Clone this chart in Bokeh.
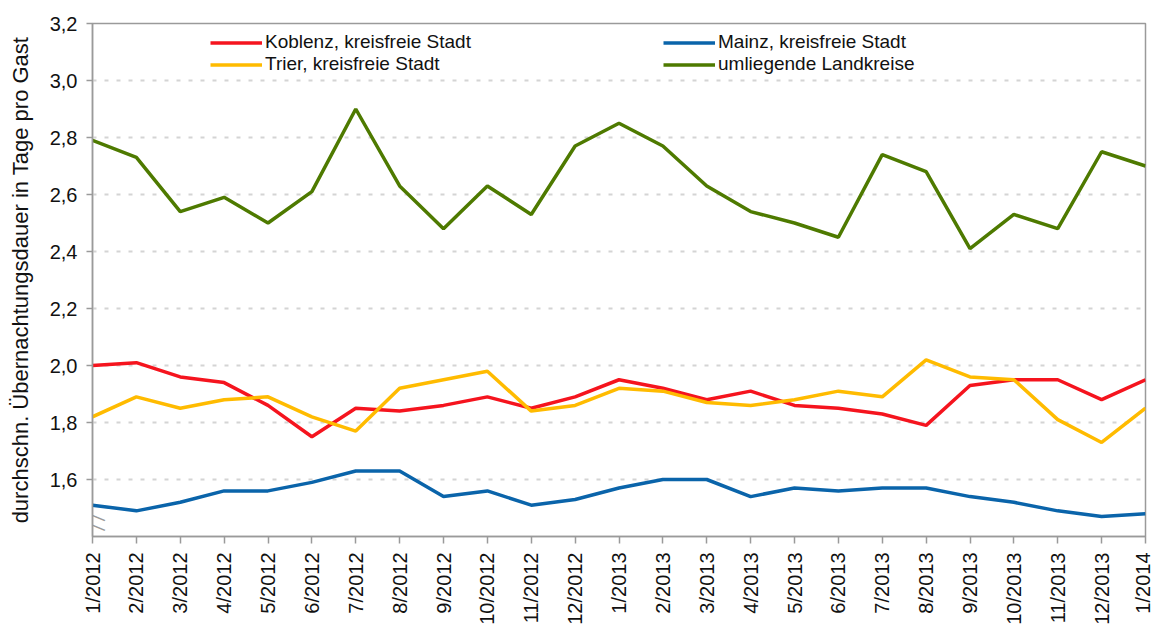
from math import pi, atan
from bokeh.plotting import figure
from bokeh.models import (FixedTicker, Legend, LegendItem, Range1d, Label)
from bokeh.embed import file_html
from bokeh.resources import INLINE

months = ["1/2012", "2/2012", "3/2012", "4/2012", "5/2012", "6/2012", "7/2012",
          "8/2012", "9/2012", "10/2012", "11/2012", "12/2012", "1/2013", "2/2013",
          "3/2013", "4/2013", "5/2013", "6/2013", "7/2013", "8/2013", "9/2013",
          "10/2013", "11/2013", "12/2013", "1/2014"]

koblenz = [2.00, 2.01, 1.96, 1.94, 1.86, 1.75, 1.85, 1.84, 1.86, 1.89, 1.85, 1.89,
           1.95, 1.92, 1.88, 1.91, 1.86, 1.85, 1.83, 1.79, 1.93, 1.95, 1.95, 1.88, 1.95]
mainz = [1.51, 1.49, 1.52, 1.56, 1.56, 1.59, 1.63, 1.63, 1.54, 1.56, 1.51, 1.53,
         1.57, 1.60, 1.60, 1.54, 1.57, 1.56, 1.57, 1.57, 1.54, 1.52, 1.49, 1.47, 1.48]
trier = [1.82, 1.89, 1.85, 1.88, 1.89, 1.82, 1.77, 1.92, 1.95, 1.98, 1.84, 1.86,
         1.92, 1.91, 1.87, 1.86, 1.88, 1.91, 1.89, 2.02, 1.96, 1.95, 1.81, 1.73, 1.85]
landkreise = [2.79, 2.73, 2.54, 2.59, 2.50, 2.61, 2.90, 2.63, 2.48, 2.63, 2.53, 2.77,
              2.85, 2.77, 2.63, 2.54, 2.50, 2.45, 2.74, 2.68, 2.41, 2.53, 2.48, 2.75, 2.70]

y_ticks = [1.6, 1.8, 2.0, 2.2, 2.4, 2.6, 2.8, 3.0, 3.2]

FONT = "Liberation Sans"
AXIS_GRAY = "#9a9a9a"

x = list(range(len(months)))

p = figure(width=1153, height=630, output_backend="svg", toolbar_location=None,
           x_range=Range1d(0, len(months) - 1), y_range=Range1d(1.4, 3.2),
           frame_width=1053, frame_height=513,
           min_border_left=92, min_border_top=23, min_border_right=8, min_border_bottom=94)

p.outline_line_color = AXIS_GRAY
p.outline_line_width = 1.5
p.background_fill_color = "white"
p.border_fill_color = "white"

p.xgrid.visible = False
p.ygrid.ticker = FixedTicker(ticks=y_ticks)
p.ygrid.grid_line_color = "#d4d4d4"
p.ygrid.grid_line_width = 2
p.ygrid.grid_line_dash = "4 8"

p.xaxis.ticker = FixedTicker(ticks=x)
p.xaxis.major_label_overrides = {i: m for i, m in enumerate(months)}
p.xaxis.major_label_orientation = pi / 2
p.yaxis.ticker = FixedTicker(ticks=y_ticks)
p.yaxis.major_label_overrides = {t: f"{t:.1f}".replace(".", ",") for t in y_ticks}

for ax in (p.xaxis[0], p.yaxis[0]):
    ax.axis_line_color = AXIS_GRAY
    ax.axis_line_width = 1.5
    ax.major_tick_line_color = AXIS_GRAY
    ax.major_tick_line_width = 1.5
    ax.minor_tick_line_color = None
    ax.major_tick_in = 0
    ax.major_label_text_font = FONT
    ax.major_label_text_font_size = "20px"
    ax.major_label_text_color = "#111111"
    ax.axis_label_text_font = FONT
    ax.axis_label_text_font_size = "22px"
    ax.axis_label_text_font_style = "normal"
    ax.axis_label_text_color = "#111111"

p.xaxis.major_tick_out = 7
p.yaxis.major_tick_out = 6
p.xaxis.major_label_standoff = 9
p.yaxis.major_label_standoff = 9
p.yaxis.axis_label = "durchschn. Übernachtungsdauer in Tage pro Gast"
p.yaxis.axis_label_standoff = 14

# axis break marks (decorative, drawn as angled dashes so they may cross the axis)
brk_angle = -atan(8 / 19)
for yb in (1.477, 1.442):
    p.add_layout(Label(x=0.08, y=yb, text="\u2014", angle=brk_angle, level="overlay",
                       text_align="center", text_baseline="middle",
                       text_font=FONT, text_font_size="21px",
                       text_color=AXIS_GRAY))

lw = 3.5
r_land = p.line(x, landkreise, line_color="#4e7a00", line_width=lw)
r_kob = p.line(x, koblenz, line_color="#f5141e", line_width=lw)
r_tri = p.line(x, trier, line_color="#ffbb00", line_width=lw)
r_mai = p.line(x, mainz, line_color="#0a64aa", line_width=lw)

def mk_legend(label, renderer, loc):
    return Legend(items=[LegendItem(label=label, renderers=[renderer])], location=loc,
                  padding=0, margin=0, spacing=0, border_line_color=None,
                  background_fill_alpha=0, glyph_width=52, glyph_height=19,
                  label_height=19, label_standoff=3,
                  label_text_font=FONT, label_text_font_size="19px",
                  label_text_color="#111111")

p.add_layout(mk_legend("Koblenz, kreisfreie Stadt", r_kob, (118, 483)))
p.add_layout(mk_legend("Trier, kreisfreie Stadt", r_tri, (118, 461)))
p.add_layout(mk_legend("Mainz, kreisfreie Stadt", r_mai, (571, 483)))
p.add_layout(mk_legend("umliegende Landkreise", r_land, (571, 461)))

open("out.html", "w").write(file_html(p, INLINE))
